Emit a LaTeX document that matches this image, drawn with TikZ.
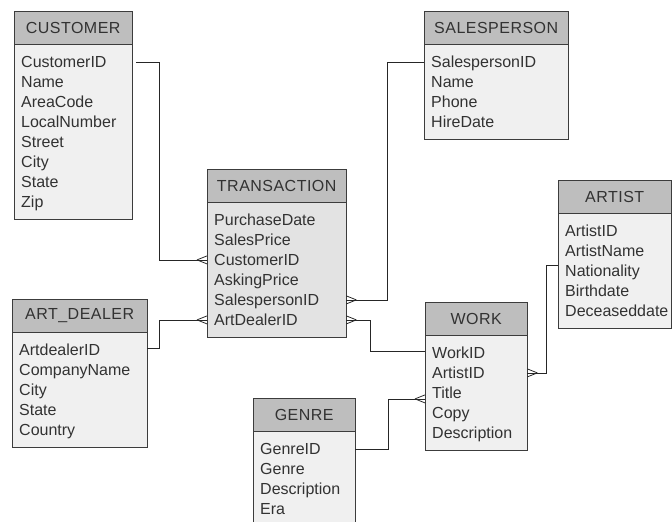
\documentclass[tikz,border=0pt]{standalone}
\usepackage{fontspec}
\setmainfont{Liberation Sans}
\newfontfamily\headfont[LetterSpace=3]{Liberation Sans}
\usetikzlibrary{positioning}

\definecolor{headfill}{RGB}{190,190,190}
\definecolor{bodyfill}{RGB}{240,240,240}
\definecolor{trfill}{RGB}{227,227,227}
\definecolor{txt}{RGB}{50,50,50}
\definecolor{edge}{RGB}{60,60,60}

\tikzset{crow/.pic={\draw[link] (-10,0) -- (0,-4) (-10,0) -- (0,4);}}

\begin{document}
\begin{tikzpicture}[x=1pt, y=-1pt,
    every node/.style={font=\fontsize{16}{19}\selectfont, text=txt},
    head/.style={draw=edge, fill=headfill, minimum height=33pt, anchor=north west,
        inner sep=0pt, font=\fontsize{16}{19}\selectfont\headfont},
    body/.style={draw=edge, fill=bodyfill, inner sep=0pt},
    row/.style={anchor=west, inner sep=0pt, text height=11.5pt, text depth=0pt},
    link/.style={draw=black!85, line width=0.8pt}]
    \useasboundingbox (0,0) rectangle (672,522);
    % Bảng CUSTOMER
    \node[head, minimum width=118pt] (cust) at (14,11) {CUSTOMER};
    \node[body, minimum width=118pt, minimum height=175pt, below=0pt of cust] (custb) {};
    \foreach \t [count=\i] in {CustomerID, Name, AreaCode, LocalNumber, Street, City, State, Zip}
        \node[row] (cust\i) at ([xshift=7pt, yshift={-17.5pt-(\i-1)*20pt}]custb.north west) {\t};
    % Bảng SALESPERSON
    \node[head, minimum width=144pt] (sp) at (424,11) {SALESPERSON};
    \node[body, minimum width=144pt, minimum height=95pt, below=0pt of sp] (spb) {};
    \foreach \t [count=\i] in {SalespersonID, Name, Phone, HireDate}
        \node[row] (sp\i) at ([xshift=7pt, yshift={-17.5pt-(\i-1)*20pt}]spb.north west) {\t};
    % Bảng TRANSACTION
    \node[head, minimum width=139pt] (tr) at (207,169) {TRANSACTION};
    \node[body, fill=trfill, minimum width=139pt, minimum height=135pt, below=0pt of tr] (trb) {};
    \foreach \t [count=\i] in {PurchaseDate, SalesPrice, CustomerID, AskingPrice, SalespersonID, ArtDealerID}
        \node[row] (tr\i) at ([xshift=7pt, yshift={-17.5pt-(\i-1)*20pt}]trb.north west) {\t};
    % Bảng ART_DEALER
    \node[head, minimum width=135pt] (ad) at (12,299) {ART\_DEALER};
    \node[body, minimum width=135pt, minimum height=115pt, below=0pt of ad] (adb) {};
    \foreach \t [count=\i] in {ArtdealerID, CompanyName, City, State, Country}
        \node[row] (ad\i) at ([xshift=7pt, yshift={-17.5pt-(\i-1)*20pt}]adb.north west) {\t};
    % Bảng ARTIST
    \node[head, minimum width=113pt] (ar) at (558,180) {ARTIST};
    \node[body, minimum width=113pt, minimum height=115pt, below=0pt of ar] (arb) {};
    \foreach \t [count=\i] in {ArtistID, ArtistName, Nationality, Birthdate, Deceaseddate}
        \node[row] (ar\i) at ([xshift=7pt, yshift={-17.5pt-(\i-1)*20pt}]arb.north west) {\t};
    % Bảng WORK
    \node[head, minimum width=102pt] (wk) at (425,302) {WORK};
    \node[body, minimum width=102pt, minimum height=115pt, below=0pt of wk] (wkb) {};
    \foreach \t [count=\i] in {WorkID, ArtistID, Title, Copy, Description}
        \node[row] (wk\i) at ([xshift=7pt, yshift={-17.5pt-(\i-1)*20pt}]wkb.north west) {\t};
    % Bảng GENRE
    \node[head, minimum width=102pt] (gn) at (253,398) {GENRE};
    \node[body, minimum width=102pt, minimum height=95pt, below=0pt of gn] (gnb) {};
    \foreach \t [count=\i] in {GenreID, Genre, Description, Era}
        \node[row] (gn\i) at ([xshift=7pt, yshift={-17.5pt-(\i-1)*20pt}]gnb.north west) {\t};
    % Các đường nối
    \draw[link] ([xshift=4pt]cust1 -| custb.east) -- ++(23,0) |- (tr3 -| trb.west);
    \pic at (tr3 -| trb.west) {crow};
    \draw[link] (sp1 -| spb.west) -- ++(-37,0) |- (tr5 -| trb.east);
    \pic[xscale=-1] at (tr5 -| trb.east) {crow};
    \draw[link] ([yshift=2pt]ad1 -| adb.east) -- ++(12,0) |- (tr6 -| trb.west);
    \pic at (tr6 -| trb.west) {crow};
    \draw[link] (tr6 -| trb.east) -- ++(24,0) |- ([yshift=2pt]wk1 -| wkb.west);
    \pic[xscale=-1] at (tr6 -| trb.east) {crow};
    \draw[link] (gn1 -| gnb.east) -- ++(33,0) |- ([yshift=-6pt]wk3 -| wkb.west);
    \pic at ([yshift=-6pt]wk3 -| wkb.west) {crow};
    \draw[link] ([yshift=6pt]ar3 -| arb.west) -- ++(-12,0) |- (wk2 -| wkb.east);
    \pic[xscale=-1] at (wk2 -| wkb.east) {crow};
\end{tikzpicture}
\end{document}
